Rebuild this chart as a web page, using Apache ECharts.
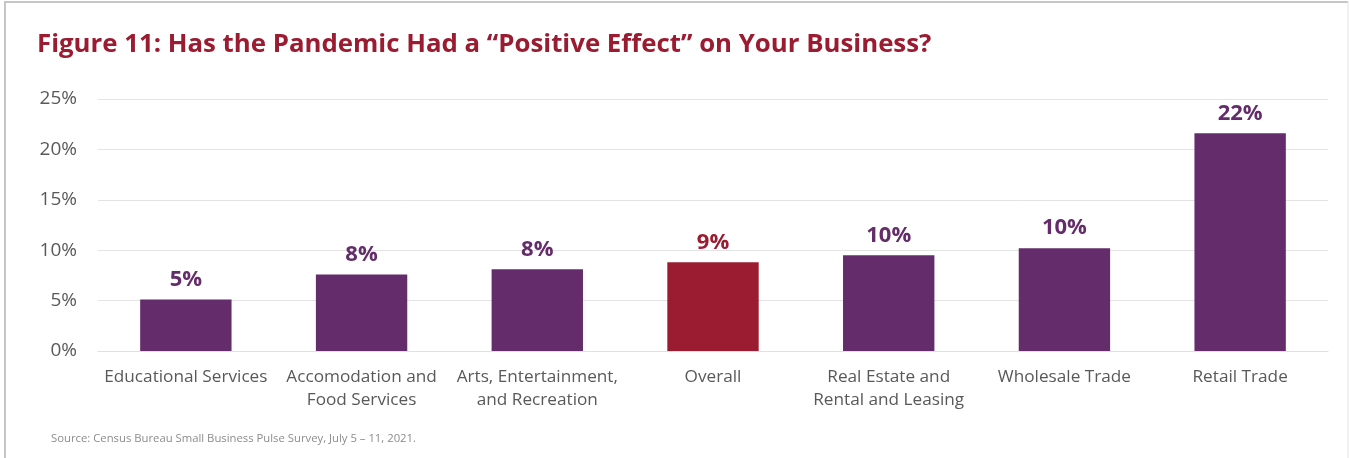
<!DOCTYPE html>
<html>
<head>
<meta charset="utf-8">
<script src="https://cdn.jsdelivr.net/npm/echarts@6/dist/echarts.min.js"></script>
<style>
  html, body { margin: 0; padding: 0; background: #fff; }
  #chart { width: 1350px; height: 458px; }
</style>
</head>
<body>
<div id="chart"></div>
<script>
// Share of businesses reporting a positive effect, by sector (percent)
const categories = [
  'Educational Services',
  'Accomodation and\nFood Services',
  'Arts, Entertainment,\nand Recreation',
  'Overall',
  'Real Estate and\nRental and Leasing',
  'Wholesale Trade',
  'Retail Trade'
];
const values = [5.1, 7.6, 8.1, 8.8, 9.5, 10.2, 21.6];
const highlightIndex = 3; // "Overall" bar

const PURPLE = '#642c6a';
const RED = '#9b1b30';

const chart = echarts.init(document.getElementById('chart'));

chart.setOption({
  backgroundColor: '#ffffff',
  animation: false,
  title: [
    {
      text: 'Figure 11: Has the Pandemic Had a \u201cPositive Effect\u201d on Your Business?',
      left: 32,
      top: 27,
      textStyle: { fontFamily: 'Open Sans', fontWeight: 'bold', fontSize: 25.8, color: RED }
    },
    {
      text: 'Source: Census Bureau Small Business Pulse Survey, July 5 \u2013 11, 2021.',
      left: 46,
      top: 428,
      textStyle: { fontFamily: 'Open Sans', fontWeight: 'normal', fontSize: 11.3, color: '#8c8c8c' }
    }
  ],
  graphic: [
    // frame around the figure
    { type: 'line', shape: { x1: 4, y1: 2, x2: 1348, y2: 2 }, style: { stroke: '#c6c6c6', lineWidth: 2 } },
    { type: 'line', shape: { x1: 5, y1: 2, x2: 5, y2: 458 }, style: { stroke: '#c6c6c6', lineWidth: 2 } },
    { type: 'line', shape: { x1: 1348, y1: 2, x2: 1348, y2: 458 }, style: { stroke: '#e2e2e2', lineWidth: 1 } }
  ],
  grid: { left: 98, right: 22, top: 99, bottom: 107 },
  xAxis: {
    type: 'category',
    data: categories,
    axisLine: { show: true, lineStyle: { color: '#e0e0e0', width: 1 } },
    axisTick: { show: false },
    axisLabel: {
      interval: 0,
      margin: 15,
      fontFamily: 'Open Sans',
      fontSize: 17.2,
      lineHeight: 23,
      color: '#595959'
    }
  },
  yAxis: {
    type: 'value',
    min: 0,
    max: 25,
    interval: 5,
    axisLine: { show: false },
    axisTick: { show: false },
    splitLine: { lineStyle: { color: '#e3e3e3', width: 1 } },
    axisLabel: {
      margin: 21,
      fontFamily: 'Open Sans',
      fontSize: 19,
      color: '#595959',
      formatter: v => v + '%'
    }
  },
  series: [{
    type: 'bar',
    barWidth: '52%',
    data: values.map((v, i) => ({
      value: v,
      itemStyle: { color: i === highlightIndex ? RED : PURPLE },
      label: { color: i === highlightIndex ? RED : PURPLE }
    })),
    label: {
      show: true,
      position: 'top',
      distance: 9,
      fontFamily: 'Open Sans',
      fontWeight: 'bold',
      fontSize: 22,
      formatter: p => Math.round(p.value) + '%'
    }
  }]
});
</script>
</body>
</html>
